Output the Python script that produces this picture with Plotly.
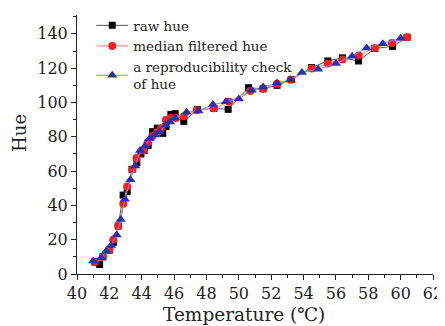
import plotly.graph_objects as go

raw_x = [41.1, 41.4, 41.6, 42.0, 42.25, 42.55, 42.85, 43.1, 43.4, 43.7, 43.95, 44.15, 44.4, 44.67, 44.96,
         45.3, 45.5, 45.8, 46.07, 46.6, 47.45, 48.46, 49.34, 50.6, 51.5, 52.36, 53.25, 54.5, 55.5,
         56.4, 57.4, 58.4, 59.5, 60.4]
raw_y = [7, 5.5, 10, 14, 18.5, 28, 46, 48, 61, 65, 70, 72, 75, 83, 85,
         82, 86, 93, 93.5, 89, 95.8, 96.5, 96, 108.6, 108, 110, 113.3, 120.4, 124.2,
         126, 124.2, 131.5, 132.7, 138]

med_x = [41.1, 41.6, 42.0, 42.24, 42.55, 42.86, 43.1, 43.43, 43.68, 44.1, 44.36, 44.67, 44.96, 45.2,
         45.5, 45.8, 46.1, 46.6, 47.4, 48.46, 49.4, 50.7, 51.5, 52.36, 53.2, 54.5, 55.5, 56.4,
         57.4, 58.4, 59.46, 60.4]
med_y = [7, 10, 14, 20, 28, 41, 51, 61, 67.6, 72, 76.6, 80.4, 82.7, 85,
         90, 91, 91, 92, 95.4, 96.6, 100.4, 106.7, 108, 110.9, 113.3, 119.8, 122.7, 125,
         127.4, 131.8, 134.7, 138]

rep_x = [41.0, 41.5, 41.8, 42.1, 42.45, 42.7, 42.96, 43.3, 43.6, 43.9, 44.2, 44.5, 44.8, 45.1,
         45.47, 45.74, 46.05, 46.77, 47.5, 48.4, 49.2, 50.0, 50.8, 51.5, 52.36, 53.2, 53.9,
         54.9, 56.0, 57.0, 57.9, 58.9, 60.0]
rep_y = [7.6, 9.5, 13.3, 16.6, 22.8, 31.8, 43.6, 55, 63, 72, 74.6, 79, 81, 83,
         86.7, 88.6, 91, 94.3, 95.2, 98.8, 100.4, 102, 107.2, 109, 111.4, 113.3, 117.5,
         119.4, 122.7, 127, 131.8, 134.3, 137.5]

x_ticks = list(range(40, 63, 2))
y_ticks = list(range(0, 141, 20))
x_title = "Temperature (℃)"
y_title = "Hue"

FONT = "DejaVu Serif"
INK = "#222222"

fig = go.Figure()
fig.add_trace(go.Scatter(
    x=raw_x, y=raw_y, mode="lines+markers", name="raw hue",
    line=dict(color="#555555", width=1),
    marker=dict(symbol="square", size=7, color="black"),
))
fig.add_trace(go.Scatter(
    x=med_x, y=med_y, mode="lines+markers", name="median filtered hue",
    line=dict(color="#f08080", width=1),
    marker=dict(symbol="circle", size=8, color="#f51f1f"),
))
fig.add_trace(go.Scatter(
    x=rep_x, y=rep_y, mode="lines+markers", name="a reproducibility check<br>of hue",
    line=dict(color="#7f8fd8", width=1),
    marker=dict(symbol="triangle-up", size=9, color="#2a30aa"),
))

fig.update_layout(
    width=445, height=318,
    margin=dict(l=69, r=20, t=2, b=52),
    paper_bgcolor="white", plot_bgcolor="white",
    font=dict(family=FONT, size=16, color=INK),
    showlegend=True,
    legend=dict(
        x=0.04, y=1.019, xanchor="left", yanchor="top",
        bgcolor="rgba(0,0,0,0)", font=dict(family=FONT, size=13.5),
        tracegroupgap=0, itemwidth=32,
    ),
    xaxis=dict(
        range=[40, 62], tickvals=x_ticks, ticktext=[str(v) for v in x_ticks],
        showgrid=False, zeroline=False, showline=True, linecolor=INK, linewidth=1,
        ticks="outside", ticklen=5, tickcolor=INK, automargin=False,
        minor=dict(dtick=1, ticks="outside", ticklen=3, tickcolor=INK),
        tickfont=dict(size=16),
    ),
    yaxis=dict(
        range=[0, 151], tickvals=y_ticks, ticktext=[str(v) for v in y_ticks],
        showgrid=False, zeroline=False, showline=True, linecolor=INK, linewidth=1,
        ticks="outside", ticklen=5, tickcolor=INK, automargin=False,
        minor=dict(dtick=10, ticks="outside", ticklen=3, tickcolor=INK),
        tickfont=dict(size=16),
    ),
    annotations=[
        dict(text=x_title, xref="paper", yref="paper", x=0.468, y=0, yshift=-40,
             xanchor="center", yanchor="middle", showarrow=False,
             font=dict(family=FONT, size=18.5, color=INK)),
        dict(text=y_title, xref="paper", yref="paper", x=-0.16, y=0.545,
             xanchor="center", yanchor="middle", showarrow=False, textangle=-90,
             font=dict(family=FONT, size=18, color=INK)),
    ],
)

fig.write_html("out.html", post_script="document.body.style.overflow='hidden';")
